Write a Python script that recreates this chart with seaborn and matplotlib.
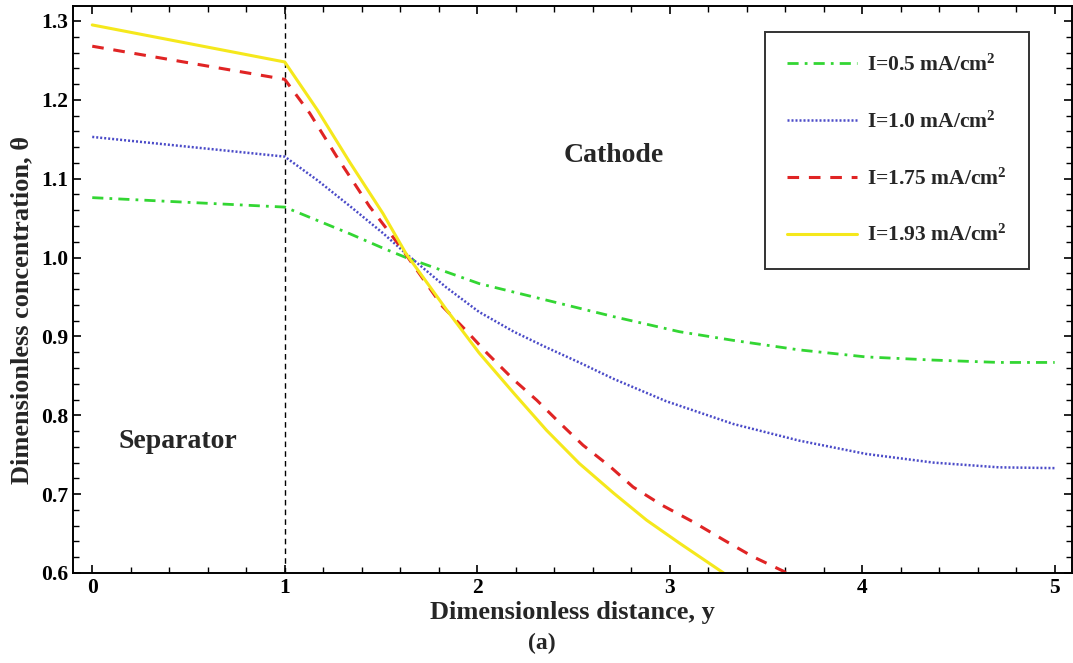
import numpy as np
import pandas as pd
import matplotlib
matplotlib.use("Agg")
import matplotlib.pyplot as plt
import seaborn as sns
from matplotlib.ticker import MultipleLocator

# ---- data ----
x_05 = [0, 1, 1.17, 1.34, 1.51, 1.63, 2.01, 2.36, 2.71, 3.05, 3.33, 3.67, 4.02, 4.37, 4.71, 5.0]
y_05 = [1.076, 1.064, 1.047, 1.030, 1.012, 1.0, 0.967, 0.946, 0.925, 0.906, 0.895, 0.883, 0.874, 0.870, 0.867, 0.867]

x_10 = [0, 1, 1.17, 1.34, 1.51, 1.63, 1.84, 2.01, 2.19, 2.36, 2.53, 2.71, 2.98, 3.33, 3.67, 4.02, 4.37, 4.71, 5.0]
y_10 = [1.153, 1.128, 1.098, 1.065, 1.031, 1.005, 0.962, 0.931, 0.906, 0.886, 0.867, 0.846, 0.818, 0.789, 0.768, 0.751, 0.740, 0.734, 0.733]

x_175 = [0, 1, 1.13, 1.27, 1.44, 1.60, 1.82, 1.94, 2.05, 2.19, 2.31, 2.43, 2.55, 2.69, 2.81, 2.96, 3.12, 3.28, 3.43, 3.61]
y_175 = [1.268, 1.226, 1.183, 1.128, 1.065, 1.014, 0.938, 0.908, 0.879, 0.845, 0.819, 0.790, 0.762, 0.735, 0.709, 0.686, 0.665, 0.642, 0.621, 0.600]

x_193 = [0, 1, 1.17, 1.34, 1.51, 1.63, 1.84, 2.01, 2.19, 2.36, 2.53, 2.71, 2.88, 3.05, 3.28]
y_193 = [1.295, 1.248, 1.187, 1.120, 1.056, 1.005, 0.934, 0.879, 0.828, 0.781, 0.739, 0.701, 0.667, 0.638, 0.600]

labels = [r"I=0.5 mA/cm$^{\mathbf{2}}$", r"I=1.0 mA/cm$^{\mathbf{2}}$",
          r"I=1.75 mA/cm$^{\mathbf{2}}$", r"I=1.93 mA/cm$^{\mathbf{2}}$"]
x_ticks = [0, 1, 2, 3, 4, 5]
y_ticks = [0.6, 0.7, 0.8, 0.9, 1.0, 1.1, 1.2, 1.3]

series = [(x_05, y_05), (x_10, y_10), (x_175, y_175), (x_193, y_193)]
colors = ["#33d633", "#4b4bc8", "#e02424", "#f5e81c"]
styles = [(0, (4, 2.2, 1, 2.2)), (0, (0.8, 0.8)), (0, (3.8, 3.2)), "-"]
widths = [2.0, 1.8, 2.2, 2.2]

sns.set_theme(style="ticks")
plt.rcParams["font.family"] = ["Liberation Serif", "DejaVu Serif"]
plt.rcParams["font.weight"] = "bold"
plt.rcParams["mathtext.fontset"] = "custom"
plt.rcParams["mathtext.rm"] = "Liberation Serif:bold"
plt.rcParams["mathtext.bf"] = "Liberation Serif:bold"
plt.rcParams["mathtext.it"] = "Liberation Serif:bold:italic"

fig = plt.figure(figsize=(10.73, 6.63), dpi=100)
ax = fig.add_axes([73 / 1073, 90 / 663, 999 / 1073, 567 / 663])

for (xs, ys), c, ls, lw, lab in zip(series, colors, styles, widths, labels):
    df = pd.DataFrame({"x": xs, "y": ys})
    sns.lineplot(data=df, x="x", y="y", ax=ax, color=c, linestyle=ls,
                 linewidth=lw, label=lab, sort=False, estimator=None)

ax.axvline(1, color="black", linestyle=(0, (4, 3)), linewidth=1.0, zorder=1)

ax.set_xlim(-0.1, 5.09)
ax.set_ylim(0.6, 1.319)
ax.xaxis.set_minor_locator(MultipleLocator(0.2))
ax.yaxis.set_minor_locator(MultipleLocator(0.02))
ax.set_xticks(x_ticks)
ax.set_yticks(y_ticks)
ax.set_xticklabels([str(v) for v in x_ticks])
ax.set_yticklabels([f"{v:.1f}" for v in y_ticks])
ax.tick_params(which="both", direction="in", top=True, right=True, colors="black",
               labelsize=15.5)
ax.tick_params(which="major", length=6, width=1.2)
ax.tick_params(which="minor", length=4, width=1.0)
for lbl in ax.get_xticklabels() + ax.get_yticklabels():
    lbl.set_fontweight("bold")
for sp in ax.spines.values():
    sp.set_color("black")
    sp.set_linewidth(1.4)

ax.set_xlabel("Dimensionless distance, y", fontsize=19, fontweight="bold")
ax.set_ylabel("Dimensionless concentration, θ", fontsize=19, fontweight="bold")
ax.xaxis.set_label_coords(0.5, (573 - 612) / 567, transform=ax.transAxes)
ax.yaxis.set_label_coords((22 - 73) / 999, (573 - 310) / 567, transform=ax.transAxes)
ax.xaxis.label.set_va("center")
ax.yaxis.label.set_va("center")

ax.text(2.71, 1.130, "Cathode", fontsize=20, fontweight="bold", ha="center", va="center")
ax.text(0.446, 0.767, "Separator", fontsize=20, fontweight="bold", ha="center", va="center")
fig.text(542 / 1073, 1 - 643 / 663, "(a)", fontsize=17, fontweight="bold", ha="center", va="center")

leg = ax.legend(loc="upper right", bbox_to_anchor=(0.957, 0.954), borderaxespad=0,
                frameon=True, fancybox=False, edgecolor="black", fontsize=15.5,
                handlelength=3.25, labelspacing=1.65, borderpad=1.05, handletextpad=0.45)
leg.get_frame().set_linewidth(1.4)
for t in leg.get_texts():
    t.set_fontweight("bold")

fig.savefig("out.png", dpi=100)
